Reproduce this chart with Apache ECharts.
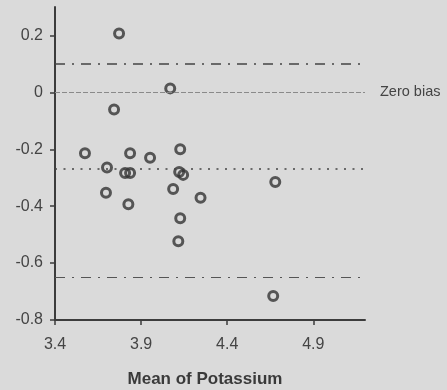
<!DOCTYPE html>
<html lang="en" style="height: 100%">
<head>
  <meta charset="utf-8" />
  <title>Bias plot</title>
</head>
<body style="height: 100%; margin: 0; background: #dadada">
  <div id="container" style="width: 447px; height: 390px"></div>

  <script src="https://cdn.jsdelivr.net/npm/echarts@6/dist/echarts.min.js"></script>

  <script>
    // mean of the two methods
    const meanK = [3.772, 4.069, 3.743, 3.574, 3.836, 3.952, 4.127, 3.702, 3.807, 3.836,
                   4.121, 4.144, 3.696, 4.086, 3.826, 4.127, 4.116, 4.245, 4.679, 4.667];
    // difference between the two methods
    const diffK = [0.207, 0.014, -0.06, -0.214, -0.214, -0.23, -0.2, -0.264, -0.283, -0.283,
                   -0.28, -0.29, -0.353, -0.34, -0.393, -0.442, -0.523, -0.37, -0.315, -0.716];

    const xTicks = [3.4, 3.9, 4.4, 4.9];
    const yTicks = [-0.8, -0.6, -0.4, -0.2, 0, 0.2];

    const meanBias = -0.274;
    const upperLimit = 0.097;
    const lowerLimit = -0.648;
    const zeroLabel = 'Zero bias';

    const points = [];
    for (let i = 0; i < meanK.length; i++) {
      points.push([meanK[i], diffK[i]]);
    }

    var dom = document.getElementById('container');
    var myChart = echarts.init(dom);

    const axisColor = '#3c3c3c';
    const font = 'Liberation Sans, Arial, sans-serif';

    var option = {
      backgroundColor: '#dadada',
      animation: false,
      grid: { left: 55, right: 82, top: 7, bottom: 70, containLabel: false, outerBoundsMode: 'none' },
      xAxis: {
        type: 'value',
        min: 3.4,
        max: 5.2,
        name: 'Mean of Potassium',
        nameLocation: 'middle',
        nameGap: 51,
        nameTextStyle: { fontFamily: font, fontSize: 17, fontWeight: 'bold', color: '#3a3a3a', padding: [0, 10, 0, 0] },
        splitLine: { show: false },
        axisLine: { onZero: false, lineStyle: { color: axisColor, width: 2 } },
        axisTick: { customValues: xTicks, length: 5, lineStyle: { color: axisColor, width: 1.5 } },
        axisLabel: { customValues: xTicks, fontFamily: font, fontSize: 16, color: '#444', margin: 17 }
      },
      yAxis: {
        type: 'value',
        min: -0.8,
        max: 0.3,
        splitLine: { show: false },
        axisLine: { show: true, lineStyle: { color: axisColor, width: 2 } },
        axisTick: { show: true, customValues: yTicks, length: 5, lineStyle: { color: axisColor, width: 1.5 } },
        axisLabel: { customValues: yTicks, fontFamily: font, fontSize: 16, color: '#444', margin: 12 }
      },
      series: [
        {
          type: 'scatter',
          data: points,
          symbol: 'circle',
          symbolSize: 9,
          itemStyle: { color: 'transparent', borderColor: '#333', borderWidth: 3 },
          markLine: {
            silent: true,
            symbol: 'none',
            animation: false,
            label: { show: false },
            data: [
              { yAxis: upperLimit, lineStyle: { color: '#444', width: 1.5, type: [10, 7, 2, 7] } },
              {
                yAxis: 0,
                lineStyle: { color: '#8a8a8a', width: 1, type: [5, 2] },
                label: {
                  show: true, position: 'end', formatter: zeroLabel, distance: 15,
                  fontFamily: font, fontSize: 14.5, color: '#444'
                }
              },
              { yAxis: meanBias, lineStyle: { color: '#444', width: 1.5, type: [2, 6.5] } },
              { yAxis: lowerLimit, lineStyle: { color: '#555', width: 1.2, type: [10, 7, 2, 7] } }
            ]
          }
        }
      ]
    };

    myChart.setOption(option);
  </script>
</body>
</html>
